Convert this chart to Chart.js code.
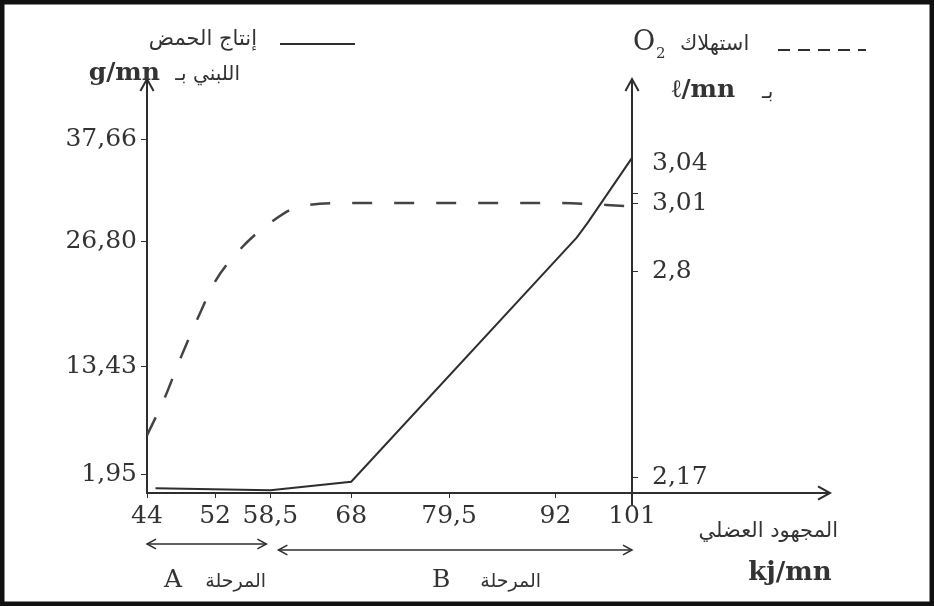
<!DOCTYPE html>
<html>
<head>
<meta charset="utf-8">
<script src="https://cdn.jsdelivr.net/npm/chart.js@4.4.1/dist/chart.umd.min.js"></script>
<style>
  html, body { margin: 0; padding: 0; background: #fff; }
  #wrap { width: 934px; height: 606px; position: relative; }
</style>
</head>
<body>
<div id="wrap"><canvas id="my-chart"></canvas></div>
<script>
// muscular effort (kj/mn) on the x axis
var effortTicks = [44, 52, 58.5, 68, 79.5, 92, 101];
var effortLabels = ['44', '52', '58,5', '68', '79,5', '92', '101'];

// lactic acid production in g/mn (solid line, left axis)
var lacticTicks = [1.95, 13.43, 26.80, 37.66];
var lacticTickLabels = ['1,95', '13,43', '26,80', '37,66'];
var lacticEffort = [45, 58.5, 68, 94.5, 95.8, 101];
var lacticValues = [0.5, 0.3, 1.2, 27.2, 28.8, 35.7];

// O2 consumption in l/mn (dashed line, right axis)
var o2Ticks = [2.17, 2.8, 3.01, 3.04];
var o2TickLabels = ['2,17', '2,8', '3,01', ['3,04', '', '']];
var o2Effort = [44, 46, 48, 50, 52, 55, 58.5, 62, 68, 79.5, 92, 101];
var o2Values = [2.30, 2.41, 2.54, 2.66, 2.77, 2.87, 2.95, 3.00, 3.01, 3.01, 3.01, 3.00];

// phases under the x axis
var phaseNames = ['A', 'B'];
var phaseFrom = [44, 58.5];
var phaseTo = [58.5, 101];

var ink = '#2e2e2e';
var serif = "'DejaVu Serif', 'Liberation Serif', serif";
var arabic = "'DejaVu Sans', 'Noto Sans', sans-serif";

function head(c, x, y, dir, s) {
  c.beginPath();
  if (dir === 'up') { c.moveTo(x - s * 0.55, y + s); c.lineTo(x, y); c.lineTo(x + s * 0.55, y + s); }
  if (dir === 'right') { c.moveTo(x - s, y - s * 0.55); c.lineTo(x, y); c.lineTo(x - s, y + s * 0.55); }
  if (dir === 'left') { c.moveTo(x + s, y - s * 0.55); c.lineTo(x, y); c.lineTo(x + s, y + s * 0.55); }
  c.stroke();
}

function txt(c, s, x, y, font, align) {
  c.font = font;
  c.textAlign = align;
  c.textBaseline = 'middle';
  c.fillText(s, x, y);
}

var extras = {
  id: 'extras',
  afterDraw: function (chart) {
    var c = chart.ctx, a = chart.chartArea, xs = chart.scales.x;
    c.save();
    // frame of the scan
    c.strokeStyle = '#111';
    c.lineWidth = 5;
    c.strokeRect(2, 2, 930, 602);

    // axis arrows
    c.strokeStyle = ink;
    c.fillStyle = ink;
    c.lineWidth = 2;
    head(c, a.left, a.top - 1, 'up', 12);
    head(c, a.right, a.top - 1, 'up', 12);
    c.beginPath();
    c.moveTo(a.right, a.bottom);
    c.lineTo(a.right, a.bottom + 12);
    c.moveTo(a.right, a.bottom);
    c.lineTo(830, a.bottom);
    c.stroke();
    head(c, 830, a.bottom, 'right', 12);

    // phase arrows
    var ay = [544, 550];
    for (var i = 0; i < phaseNames.length; i++) {
      var x0 = xs.getPixelForValue(phaseFrom[i]) + (i ? 8 : 0);
      var x1 = xs.getPixelForValue(phaseTo[i]) - (i ? 0 : 4);
      c.lineWidth = 1.5;
      c.beginPath();
      c.moveTo(x0, ay[i]);
      c.lineTo(x1, ay[i]);
      c.stroke();
      head(c, x0, ay[i], 'left', 9);
      head(c, x1, ay[i], 'right', 9);
    }
    c.fillStyle = '#333';
    txt(c, 'A', 164, 580, '25px ' + serif, 'left');
    txt(c, 'المرحلة', 266, 582, '19px ' + arabic, 'right');
    txt(c, 'B', 432, 580, '25px ' + serif, 'left');
    txt(c, 'المرحلة', 541, 582, '19px ' + arabic, 'right');

    // left title: lactic acid
    txt(c, 'إنتاج الحمض', 257, 40, '21px ' + arabic, 'right');
    c.lineWidth = 2;
    c.beginPath();
    c.moveTo(280, 44);
    c.lineTo(355, 44);
    c.stroke();
    txt(c, 'g/mn', 160, 73, 'bold 25px ' + serif, 'right');
    txt(c, 'اللبني بـ', 240, 75, '20px ' + arabic, 'right');

    // right title: O2 consumption
    txt(c, 'O', 633, 43, '27px ' + serif, 'left');
    txt(c, '2', 656, 54, '15px ' + serif, 'left');
    txt(c, 'استهلاك', 680, 45, '21px ' + arabic, 'left');
    c.setLineDash([12, 8]);
    c.beginPath();
    c.moveTo(778, 50);
    c.lineTo(866, 50);
    c.stroke();
    c.setLineDash([]);
    txt(c, 'ℓ/mn', 672, 90, 'bold 25px ' + serif, 'left');
    txt(c, 'بـ', 762, 93, '20px ' + arabic, 'left');

    // x axis title
    txt(c, 'المجهود العضلي', 838, 532, '21px ' + arabic, 'right');
    txt(c, 'kj/mn', 790, 573, 'bold 26px ' + serif, 'center');
    c.restore();
  }
};

function pts(xs, ys) {
  return xs.map(function (x, i) { return { x: x, y: ys[i] }; });
}

var ctx = document.getElementById('my-chart').getContext('2d');
var myChart = new Chart(ctx, {
  type: 'line',
  data: {
    datasets: [{
      label: 'إنتاج الحمض اللبني',
      data: pts(lacticEffort, lacticValues),
      yAxisID: 'y',
      borderColor: ink,
      borderWidth: 2,
      pointRadius: 0,
      tension: 0
    }, {
      label: 'استهلاك O2',
      data: pts(o2Effort, o2Values),
      yAxisID: 'y2',
      borderColor: '#444',
      borderWidth: 2.5,
      borderDash: [20, 22],
      pointRadius: 0,
      cubicInterpolationMode: 'monotone'
    }]
  },
  options: {
    responsive: true,
    maintainAspectRatio: false,
    animation: false,
    layout: { padding: { top: 80, right: 202, bottom: 68, left: 0 } },
    plugins: {
      legend: { display: false },
      tooltip: { enabled: false }
    },
    scales: {
      x: {
        type: 'linear',
        min: 44,
        max: 101,
        afterBuildTicks: function (s) { s.ticks = effortTicks.map(function (v) { return { value: v }; }); },
        afterFit: function (s) { s.height = 45; },
        grid: { drawOnChartArea: false, tickLength: 5, color: ink },
        border: { color: ink, width: 2 },
        ticks: {
          autoSkip: false, maxRotation: 0, padding: 3, color: '#333',
          font: { family: serif, size: 25 },
          callback: function (v, i) { return effortLabels[i]; }
        }
      },
      y: {
        position: 'left',
        min: 0,
        max: 44,
        afterBuildTicks: function (s) { s.ticks = lacticTicks.map(function (v) { return { value: v }; }); },
        afterFit: function (s) { s.width = 147; },
        grid: { drawOnChartArea: false, tickLength: 6, color: ink },
        border: { color: ink, width: 2 },
        ticks: {
          autoSkip: false, padding: 4, color: '#333',
          font: { family: serif, size: 25 },
          callback: function (v, i) { return lacticTickLabels[i]; }
        }
      },
      y2: {
        position: 'right',
        min: 2.124,
        max: 3.386,
        afterBuildTicks: function (s) { s.ticks = o2Ticks.map(function (v) { return { value: v }; }); },
        afterFit: function (s) { s.width = 100; },
        grid: { drawOnChartArea: false, tickLength: 6, color: ink },
        border: { color: ink, width: 2 },
        ticks: {
          autoSkip: false, padding: 14, color: '#333',
          font: { family: serif, size: 25 },
          callback: function (v, i) { return o2TickLabels[i]; }
        }
      }
    }
  },
  plugins: [extras]
});
</script>
</body>
</html>
